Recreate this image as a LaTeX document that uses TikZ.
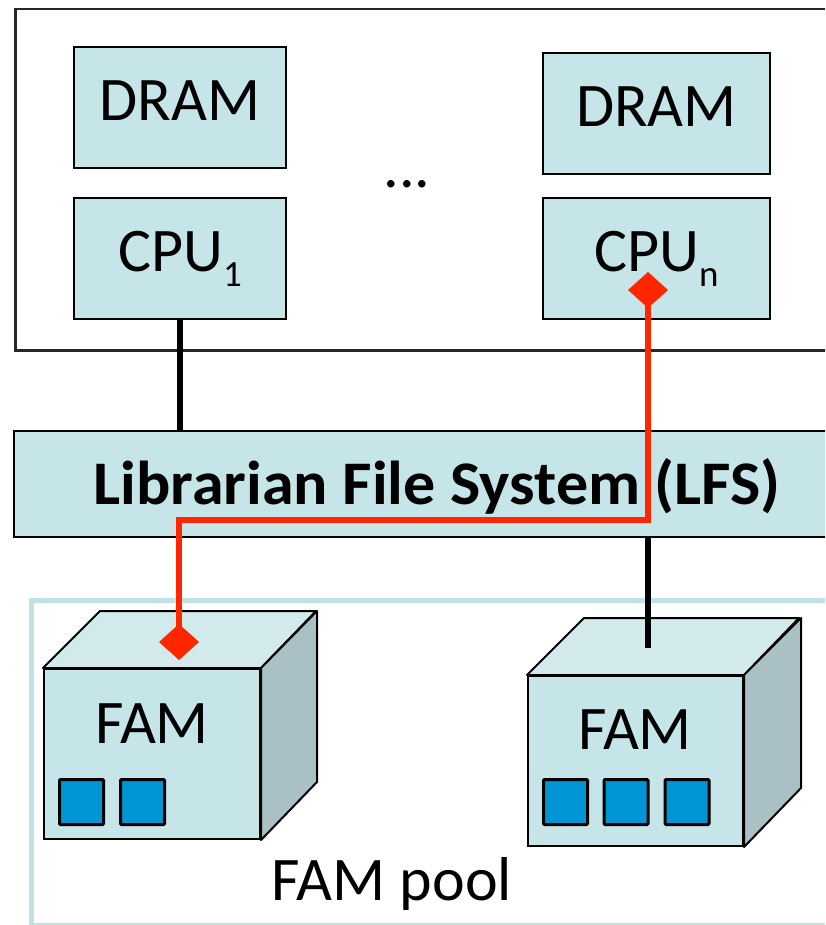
\documentclass[tikz,border=0pt]{standalone}
\usepackage{fontspec}
\setmainfont{Carlito}
\usetikzlibrary{arrows.meta}

\definecolor{boxfill}{RGB}{197,229,232}
\definecolor{topface}{RGB}{211,234,236}
\definecolor{sideface}{RGB}{169,193,196}
\definecolor{chipblue}{RGB}{0,150,214}
\definecolor{pathred}{RGB}{255,38,0}
\definecolor{poolline}{RGB}{192,226,229}

\newcommand\diagfont{\fontsize{62}{70}\selectfont}
\newcommand\subfont{\fontsize{37}{40}\selectfont}

\begin{document}
\begin{tikzpicture}[x=1pt,y=-1pt,
  unitbox/.style={draw=black, line width=2pt, fill=boxfill, inner sep=0pt,
    font=\diagfont, text height=40pt},
  frontface/.style={draw=black, line width=2pt, fill=boxfill, inner sep=0pt},
  topfc/.style={draw=black, line width=2pt, fill=topface, line join=round},
  sidefc/.style={draw=black, line width=2pt, fill=sideface, line join=round},
  chipbox/.style={draw=black, line width=3pt, fill=chipblue, inner sep=0pt,
    minimum width=44pt, minimum height=45pt, rounded corners=1pt},
  label/.style={font=\diagfont, inner sep=0pt, text height=40pt, text depth=0pt},
  wire/.style={draw=black, line width=6pt},
  redwire/.style={draw=pathred, line width=6.5pt, line join=miter},
  porttip/.tip={Diamond[length=36pt,width=40pt]}
]
\useasboundingbox (0,0) rectangle (825,925);
\clip (0,0) rectangle (825,925);

% host enclosure and FAM pool enclosure
\node[draw=black!85, line width=2.5pt, anchor=north west, inner sep=0pt,
  minimum width=860pt, minimum height=341pt] (host) at (14,8) {};
\node[draw=poolline, line width=5pt, anchor=north west, inner sep=0pt,
  minimum width=850pt, minimum height=325pt] (pool) at (29,598) {};

% DRAM and CPU units
\node[unitbox, minimum width=212pt, minimum height=121pt, text depth=14pt]
  (dram1) at (180,107.5) {DRAM};
\node[unitbox, minimum width=227pt, minimum height=121pt, text depth=14pt]
  (dramn) at (656.5,113.5) {DRAM};
\node[unitbox, minimum width=212pt, minimum height=121pt, text depth=15pt]
  (cpu1) at (180,258.5) {CPU\raisebox{-15pt}{\subfont 1}};
\node[unitbox, minimum width=227pt, minimum height=121pt, text depth=15pt]
  (cpun) at (656.5,258.5) {CPU\raisebox{-15pt}{\subfont n}};
\node[font=\diagfont, inner sep=0pt, anchor=base] (dots) at (407,188) {...};

% Librarian file system bar
\node[unitbox, font=\diagfont\bfseries, minimum width=846pt, minimum height=106pt,
  text depth=0pt] (lfs) at (437,484) {\scalebox{1.033}[1]{Librarian File System (LFS)}};

% first FAM module
\node[frontface, minimum width=216pt, minimum height=170pt] (fam1) at (152,754) {};
\filldraw[topfc] (fam1.north west) -- ++(57,-57) -- ++(216,0) -- (fam1.north east) -- cycle;
\filldraw[sidefc] (fam1.north east) -- ++(56,-57) -- ++(0,171) -- (fam1.south east) -- cycle;
\node[label] (fam1-label) at (152,723) {FAM};
\node[chipbox] (fam1-chipa) at (81.5,802) {};
\node[chipbox] (fam1-chipb) at (142.5,802) {};

% second FAM module
\node[frontface, minimum width=215pt, minimum height=170pt] (fam2) at (635.5,761) {};
\filldraw[topfc] (fam2.north west) -- ++(57,-57) -- ++(215,0) -- (fam2.north east) -- cycle;
\filldraw[sidefc] (fam2.north east) -- ++(57,-57) -- ++(0,170) -- (fam2.south east) -- cycle;
\node[label] (fam2-label) at (635,729) {FAM};
\node[chipbox] (fam2-chipa) at (565.5,802) {};
\node[chipbox] (fam2-chipb) at (626,802) {};
\node[chipbox] (fam2-chipc) at (687,802) {};

\node[label] (pool-label) at (392,880) {FAM pool};

% connections
\coordinate (fam2-port) at (648,648);
\draw[wire] (cpu1.south) -- (cpu1.south |- lfs.north);
\draw[wire] (lfs.south -| fam2-port) -- (fam2-port);

\coordinate (cpun-port) at (648,272);
\coordinate (fam1-port) at (179,660);
\coordinate (lfs-route) at (400,520);
\draw[redwire, porttip-porttip] (cpun-port) -- (cpun-port |- lfs-route)
  -- (fam1-port |- lfs-route) -- (fam1-port);
\end{tikzpicture}
\end{document}
